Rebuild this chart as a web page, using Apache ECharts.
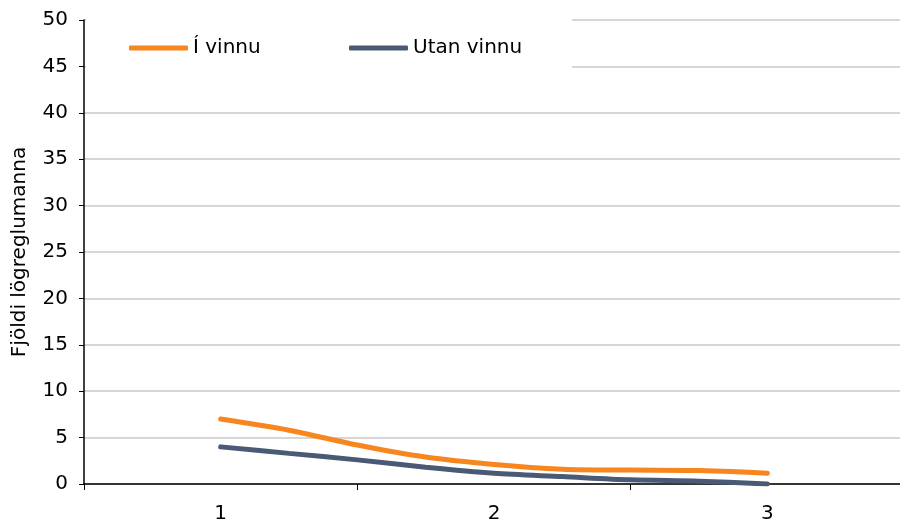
<!DOCTYPE html>
<html>
<head>
<meta charset="utf-8">
<script src="https://cdn.jsdelivr.net/npm/echarts@6/dist/echarts.min.js"></script>
<style>
  html, body { margin: 0; padding: 0; background: #fff; }
  #box { width: 900px; height: 523px; }
</style>
</head>
<body>
<div id="box"></div>
<script>
// flokkar á x-ás
var categories = ['1', '2', '3'];
// x-staðsetningar punkta (milli flokka)
var xPoints = [1, 1.25, 1.5, 1.75, 2, 2.25, 2.5, 2.75, 3];
var iVinnu = [7.0, 5.8, 4.2, 2.9, 2.1, 1.6, 1.5, 1.45, 1.15];
var utanVinnu = [4.0, 3.3, 2.6, 1.8, 1.15, 0.8, 0.45, 0.3, 0.0];

function pairs(xs, ys) {
  var out = [];
  for (var i = 0; i < xs.length; i++) {
    out.push([xs[i], ys[i]]);
  }
  return out;
}

var myChart = echarts.init(document.getElementById('box'));
var option = {
  animation: false,
  textStyle: { fontFamily: 'DejaVu Sans' },
  grid: { left: 84, right: -4, top: 20, bottom: 39, outerBoundsMode: 'none', containLabel: false },
  graphic: [{
    type: 'rect',
    z: 1,
    shape: { x: 86, y: 0, width: 486, height: 82 },
    style: { fill: '#fff' }
  }],
  legend: [
    {
      data: ['Í vinnu'],
      left: 129, top: 38, padding: 0,
      icon: 'roundRect', itemWidth: 59, itemHeight: 5,
      textStyle: { fontSize: 20, color: '#000', fontFamily: 'DejaVu Sans' }
    },
    {
      data: ['Utan vinnu'],
      left: 349, top: 38, padding: 0,
      icon: 'roundRect', itemWidth: 59, itemHeight: 5,
      textStyle: { fontSize: 20, color: '#000', fontFamily: 'DejaVu Sans' }
    }
  ],
  xAxis: [
    {
      type: 'category',
      data: categories,
      boundaryGap: true,
      axisLine: { lineStyle: { color: '#000', width: 1.5 } },
      axisTick: { show: true, length: 6, lineStyle: { color: '#000' } },
      axisLabel: { fontSize: 20, color: '#000', margin: 20 },
      splitLine: { show: false }
    },
    {
      type: 'value',
      min: 0.5,
      max: 3.5,
      show: false,
      splitLine: { show: false }
    }
  ],
  yAxis: {
    type: 'value',
    min: 0,
    max: 50,
    interval: 5,
    name: 'Fjöldi lögreglumanna',
    nameLocation: 'middle',
    nameGap: 54,
    nameTextStyle: { fontSize: 20, color: '#000' },
    axisLine: { show: true, lineStyle: { color: '#000', width: 1.5 } },
    axisTick: { show: true, length: 5, lineStyle: { color: '#000' } },
    axisLabel: { fontSize: 20, color: '#000', margin: 16 },
    splitLine: { lineStyle: { color: '#c8c8c8', width: 1.5 } }
  },
  series: [
    {
      name: 'Í vinnu',
      type: 'line',
      xAxisIndex: 1,
      smooth: 0.3,
      showSymbol: false,
      color: '#f7861f',
      lineStyle: { width: 5, cap: 'round' },
      data: pairs(xPoints, iVinnu)
    },
    {
      name: 'Utan vinnu',
      type: 'line',
      xAxisIndex: 1,
      smooth: 0.3,
      showSymbol: false,
      color: '#4a5a75',
      lineStyle: { width: 5, cap: 'round' },
      data: pairs(xPoints, utanVinnu)
    }
  ]
};
myChart.setOption(option);
</script>
</body>
</html>
